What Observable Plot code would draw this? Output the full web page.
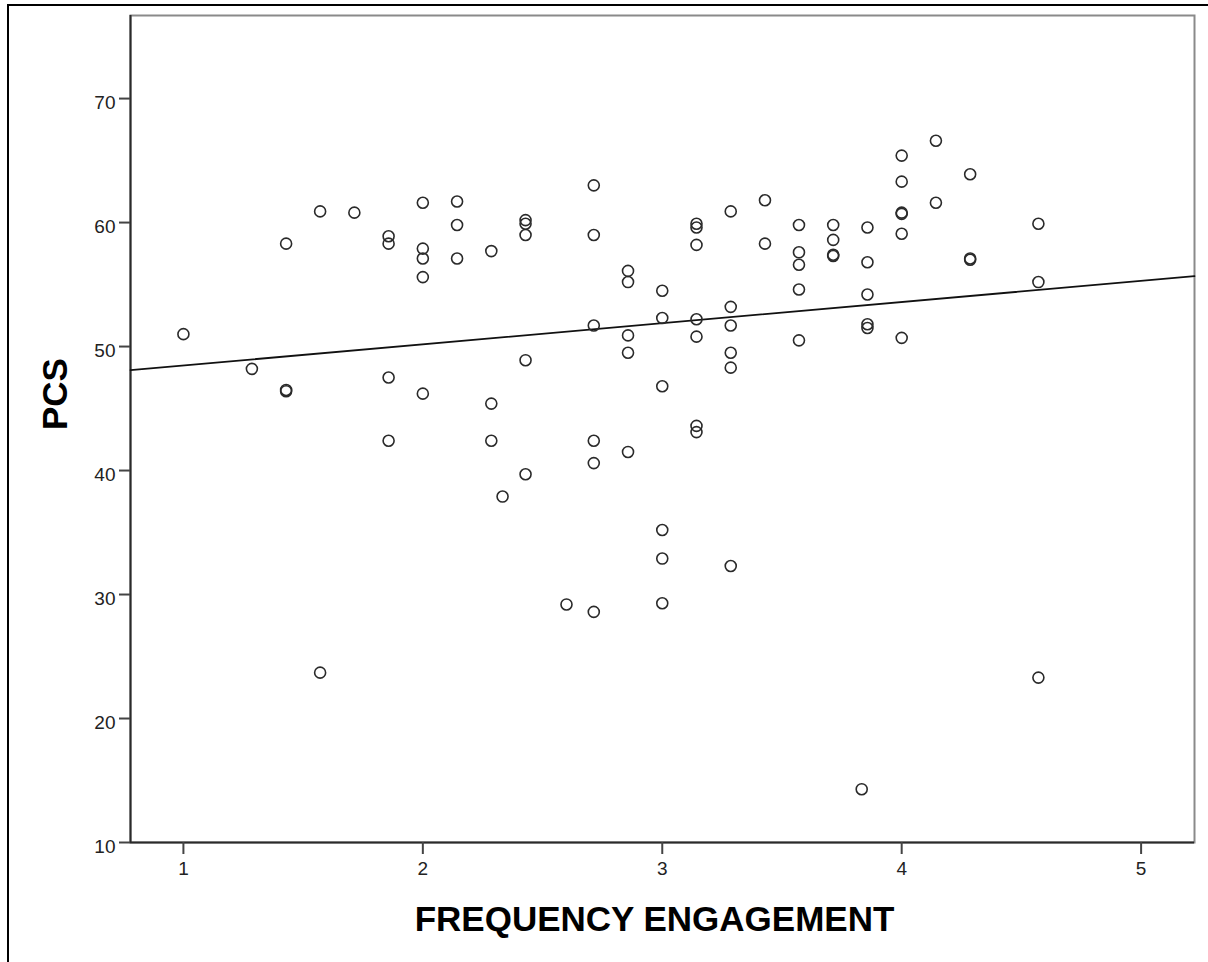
<!DOCTYPE html>
<html>
<head>
<meta charset="utf-8">
<script src="https://cdn.jsdelivr.net/npm/d3@7"></script>
<script src="https://cdn.jsdelivr.net/npm/@observablehq/plot@0.6"></script>
<style>
  html, body { margin: 0; padding: 0; background: #fff; }
  #wrap { position: relative; width: 1208px; height: 962px; overflow: hidden; }
  #border { position: absolute; left: 7px; top: 4px; width: 1220px; height: 980px;
            border-left: 2px solid #000; border-top: 2px solid #000; pointer-events: none; }
</style>
</head>
<body>
<div id="wrap"><div id="border"></div></div>
<script>
// Frequency engagement (x) and PCS (y) for each respondent
const freq = [
  1.000,
  1.286,
  1.429, 1.429, 1.429,
  1.571, 1.571,
  1.714,
  1.857, 1.857, 1.857, 1.857,
  2.000, 2.000, 2.000, 2.000, 2.000,
  2.143, 2.143, 2.143,
  2.286, 2.286, 2.286,
  2.333,
  2.429, 2.429, 2.429, 2.429, 2.429,
  2.600,
  2.714, 2.714, 2.714, 2.714, 2.714, 2.714,
  2.857, 2.857, 2.857, 2.857, 2.857,
  3.000, 3.000, 3.000, 3.000, 3.000, 3.000,
  3.143, 3.143, 3.143, 3.143, 3.143, 3.143, 3.143,
  3.286, 3.286, 3.286, 3.286, 3.286, 3.286,
  3.429, 3.429,
  3.571, 3.571, 3.571, 3.571, 3.571,
  3.714, 3.714, 3.714, 3.714,
  3.833,
  3.857, 3.857, 3.857, 3.857, 3.857,
  4.000, 4.000, 4.000, 4.000, 4.000, 4.000,
  4.143, 4.143,
  4.286, 4.286, 4.286,
  4.571, 4.571, 4.571
];
const pcs = [
  51.0,
  48.2,
  58.3, 46.5, 46.4,
  60.9, 23.7,
  60.8,
  58.9, 58.3, 47.5, 42.4,
  61.6, 57.9, 57.1, 55.6, 46.2,
  61.7, 59.8, 57.1,
  57.7, 45.4, 42.4,
  37.9,
  60.2, 59.9, 59.0, 48.9, 39.7,
  29.2,
  63.0, 59.0, 51.7, 42.4, 40.6, 28.6,
  56.1, 55.2, 50.9, 49.5, 41.5,
  54.5, 52.3, 46.8, 35.2, 32.9, 29.3,
  59.9, 59.6, 58.2, 52.2, 50.8, 43.6, 43.1,
  60.9, 53.2, 51.7, 49.5, 48.3, 32.3,
  61.8, 58.3,
  59.8, 57.6, 56.6, 54.6, 50.5,
  59.8, 58.6, 57.4, 57.3,
  14.3,
  59.6, 56.8, 54.2, 51.8, 51.5,
  65.4, 63.3, 60.8, 60.7, 59.1, 50.7,
  66.6, 61.6,
  63.9, 57.1, 57.0,
  59.9, 55.2, 23.3
];
const xTicks = [1, 2, 3, 4, 5];
const yTicks = [10, 20, 30, 40, 50, 60, 70];
const xDomain = [0.779, 5.223];
const yDomain = [10, 76.7];
const xTitle = "FREQUENCY ENGAGEMENT";
const yTitle = "PCS";

const points = freq.map((f, i) => ({x: f, y: pcs[i]}));

// Ordinary least squares fit line (as drawn in the SPSS chart), extended over the x domain
const mx = d3.mean(points, d => d.x), my = d3.mean(points, d => d.y);
const slope = d3.sum(points, d => (d.x - mx) * (d.y - my)) / d3.sum(points, d => (d.x - mx) ** 2);
const intercept = my - slope * mx;
const fit = xDomain.map(x => ({x, y: intercept + slope * x}));

const font = "'Liberation Sans', Arial, sans-serif";

const chart = Plot.plot({
  width: 1208,
  height: 962,
  marginLeft: 130,
  marginRight: 14,
  marginTop: 15,
  marginBottom: 120,
  style: {fontFamily: font, background: "transparent", color: "#222"},
  x: {domain: xDomain, axis: null},
  y: {domain: yDomain, axis: null},
  marks: [
    Plot.frame({stroke: "#8a8a8a", strokeWidth: 2}),
    Plot.ruleX([xDomain[0]], {stroke: "#2a2a2a", strokeWidth: 2}),
    Plot.ruleY([yDomain[0]], {stroke: "#2a2a2a", strokeWidth: 2}),
    Plot.axisX(xTicks, {tickSize: 12, tickPadding: 7, fontSize: 19, stroke: "#444", strokeWidth: 2, fill: "#222",
      tickFormat: d => String(d), label: null}),
    Plot.axisY(yTicks, {tickSize: 11, text: null, stroke: "#444", strokeWidth: 2, label: null}),
    Plot.text(yTicks, {y: d => d, text: d => String(d), frameAnchor: "left", dx: -15, dy: 4,
      textAnchor: "end", fontSize: 19, fill: "#222"}),
    Plot.line(fit, {x: "x", y: "y", stroke: "#111", strokeWidth: 1.8}),
    Plot.dot(points, {x: "x", y: "y", r: 5.5, stroke: "#2a2a2a", strokeWidth: 1.6, fill: "none"}),
    Plot.text([xTitle], {text: d => d, frameAnchor: "bottom", dx: -8, dy: 77, lineAnchor: "middle",
      fontSize: 35, fontWeight: "bold", fill: "#000"}),
    Plot.text([yTitle], {text: d => d, frameAnchor: "left", dx: -75, dy: 1, rotate: -90, lineAnchor: "middle",
      fontSize: 35, fontWeight: "bold", fill: "#000"})
  ]
});
chart.style.position = "absolute";
chart.style.left = "0px";
chart.style.top = "0px";
document.getElementById("wrap").insertBefore(chart, document.getElementById("border"));
</script>
</body>
</html>
